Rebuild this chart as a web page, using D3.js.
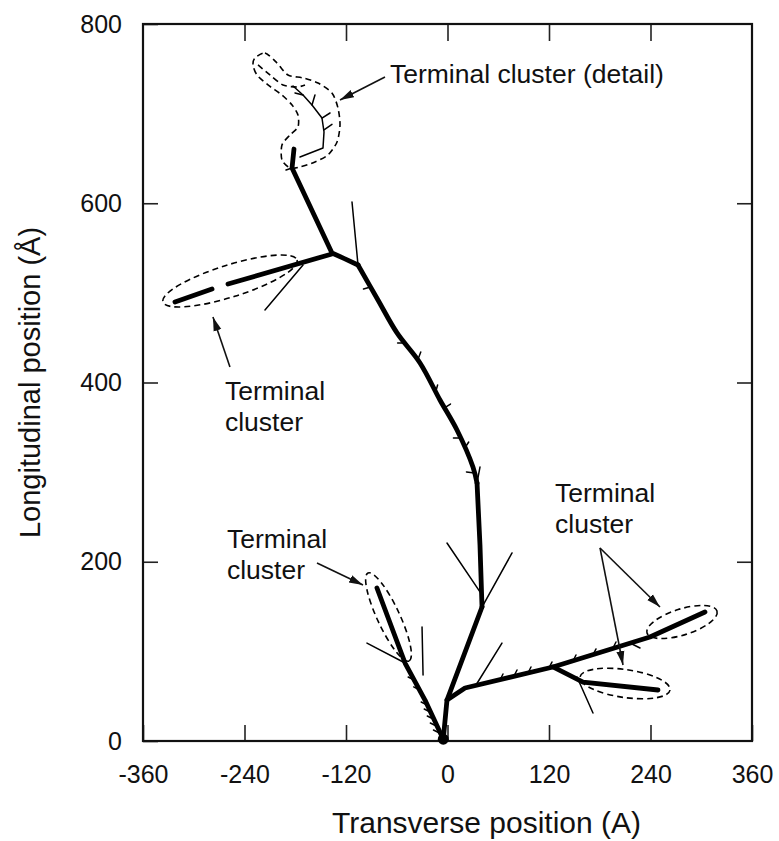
<!DOCTYPE html>
<html><head><meta charset="utf-8">
<script src="https://cdn.jsdelivr.net/npm/d3@7"></script>
<style>body{margin:0;background:#fff} svg{display:block}</style>
</head><body><div id="chart"></div>
<script>
// ---- axes ----
const xTicks = [-360, -240, -120, 0, 120, 240, 360];
const yTicks = [0, 200, 400, 600, 800];
const xTitle = "Transverse position (A)";
const yTitle = "Longitudinal position (Å)";

// ---- tree: thick segments (transverse, longitudinal in Å) ----
const root = [[-5, 2]];
const trunk = [[-5, 2], [-0.6, 45.7], [40.8, 149.5]];
const mainLower = [[40.8, 149.5], [38.4, 218.7], [34.9, 287.9]];
const mainCurve = [[34.9, 287.9], [30.1, 305.7], [11.2, 347.0], [-8.9, 380.5], [-32.5, 421.8], [-59.7, 455.3], [-82.2, 492.1], [-105.8, 531.1]];
const mainUpper = [[-105.8, 531.1], [-121.2, 538], [-136.6, 544.5], [-183.8, 639.3], [-181.5, 660.5]];
const leftClusterNear = [[-136.6, 543.4], [-259.5, 509.9]];
const leftClusterFar = [[-278.4, 504.3], [-322.2, 489.8]];
const lowerLeftBranch = [[-5, 2], [-26.6, 45.7], [-50.2, 87], [-83.4, 170.7]];
const rightBranch = [[-0.6, 45.7], [20.7, 59.1], [124.7, 82.6], [239.4, 116], [304.4, 143.9]];
const rightLowerBranch = [[124.7, 82.6], [160.2, 65.8], [248.9, 56.9]];

// ---- thin side branches ----
const thinBranches = [
  [[-105.8, 531.1], [-112.9, 601.4]],
  [[-170.8, 531.1], [-215.8, 480.9]],
  [[-50.2, 87], [-95.2, 109.3]],
  [[-28.9, 73.6], [-30.1, 127.2]],
  [[40.8, 149.5], [76.3, 209.8]],
  [[-0.6, 220.9], [38.4, 166.3]],
  [[153.1, 71.4], [172, 31.2]],
  [[33.7, 62.5], [64.4, 109.3]]
];
const detailTree = [[-174.4, 651.6], [-147.2, 661.6], [-146, 679.5], [-148.4, 695.1], [-160.2, 709.6], [-170.8, 720.8], [-182.6, 730.9]];
const detailTwigs = [
  [[-160.2, 709.6], [-156.7, 720.8]],
  [[-170.8, 720.8], [-180.3, 723]],
  [[-148.4, 695.1], [-138.9, 700.7]],
  [[-146, 682], [-136.6, 688]]
];
// ---- short barbs ----
const barbs = [
  [[-91, 506.6], [-99.3, 504.4]],
  [[-50.6, 444.1], [-59, 444.1]],
  [[-35.2, 425.1], [-31.6, 434]],
  [[-14, 389.4], [-11.7, 397.2]],
  [[-3.6, 371.6], [3.5, 376]],
  [[15.3, 338.1], [7, 338.1]],
  [[20.4, 326.9], [25.1, 333.6]],
  [[31.9, 299], [22.4, 300.2]],
  [[34.9, 287.9], [38.4, 305.7]],
  [[-183.8, 639.3], [-190.9, 637.1]],
  [[-24, 40.2], [-31.1, 43.5]],
  [[-20.5, 32.4], [-27.5, 35.7]],
  [[-16.8, 24.5], [-23.9, 27.9]],
  [[-13.2, 16.7], [-20.3, 20.1]],
  [[-9.5, 8.9], [-16.6, 12.3]],
  [[-32.9, 56.9], [-40, 60.3]],
  [[-39.4, 68.1], [-46.5, 71.4]],
  [[62.1, 68.1], [65.6, 74.8]],
  [[78.6, 72.5], [82.2, 79.2]],
  [[95.2, 75.9], [98.7, 82.6]],
  [[120, 81.5], [123.5, 88.1]],
  [[148.4, 89.3], [151.9, 96]],
  [[172, 96], [175.6, 102.7]],
  [[195.7, 103.8], [199.2, 110.5]],
  [[215.8, 109.3], [227.6, 103.8]]
];

// ---- dashed cluster outlines: tip A, tip B, half-width (Å) ----
const clusterEllipses = [
  [[-336.4, 489.8], [-177.9, 536.7], 17.9],
  [[-94, 187.5], [-45.5, 89.3], 12.5],
  [[235.9, 120.5], [318.6, 145.1], 14.5],
  [[156.7, 71.4], [263.1, 56.9], 15.6]
];
const detailOutline = [[-227.6, 762.1], [-215.8, 767.7], [-201.6, 756.5], [-188.6, 743.1], [-170.8, 739.8], [-153.1, 734.2], [-136.6, 723], [-129.5, 706.3], [-127.1, 687.3], [-130.6, 668.4], [-141.3, 653.9], [-156.7, 646.1], [-174.4, 640.5], [-186.2, 639.4], [-195.7, 648.3], [-195.7, 665], [-186.2, 676.2], [-176.8, 685.1], [-176.8, 698.5], [-183.8, 709.6], [-195.7, 720.8], [-212.2, 732], [-225.2, 743.1], [-229.9, 754.3]];
const detailInner = [[-224, 754.3], [-209.9, 743.1], [-194.5, 732], [-177.9, 729.7], [-168.5, 732]];

// ---- annotations ----
const arrows = [
  [[-73.9, 740.9], [-127.1, 715.2]],
  [[-257.2, 417.3], [-277.3, 473.1]],
  [[-154.3, 198.6], [-99.9, 174.1]],
  [[180.3, 215.4], [251.2, 149.5]],
  [[180.3, 215.4], [207.5, 84.8]]
];
const labelText = [["Terminal cluster (detail)"], ["Terminal", "cluster"], ["Terminal", "cluster"], ["Terminal", "cluster"]];
const labelAt = [[-68, 734.2], [-263.1, 380.5], [-260.7, 215.4], [127.1, 266.7]];

// ================= drawing =================
const W = 779, H = 841;
const mLeft = 143, mRight = 752, mTop = 24, mBottom = 741;
const font = "'Liberation Sans', Arial, Helvetica, sans-serif";

const svg = d3.select("#chart").append("svg").attr("width", W).attr("height", H)
  .style("font-family", font);

const x = d3.scaleLinear().domain([-360, 360]).range([mLeft, mRight]);
const y = d3.scaleLinear().domain([0, 800]).range([mBottom, mTop]);

const defs = svg.append("defs");
defs.append("marker").attr("id", "ah").attr("markerUnits", "userSpaceOnUse")
  .attr("markerWidth", 16).attr("markerHeight", 10).attr("refX", 14).attr("refY", 5)
  .attr("orient", "auto")
  .append("path").attr("d", "M0,1 L14,5 L0,9 Z").attr("fill", "#111");

const fmt = d => String(d);
// axes
const gx = svg.append("g").attr("transform", `translate(0,${mBottom})`)
  .call(d3.axisBottom(x).tickValues(xTicks).tickFormat(fmt).tickSizeInner(-16).tickSizeOuter(0).tickPadding(24));
const gxt = svg.append("g").attr("transform", `translate(0,${mTop})`)
  .call(d3.axisTop(x).tickValues(xTicks.slice(1, -1)).tickSizeInner(-17).tickSizeOuter(0).tickFormat(""));
const gy = svg.append("g").attr("transform", `translate(${mLeft},0)`)
  .call(d3.axisLeft(y).tickValues(yTicks).tickFormat(fmt).tickSizeInner(-15).tickSizeOuter(0).tickPadding(21));
const gyr = svg.append("g").attr("transform", `translate(${mRight},0)`)
  .call(d3.axisRight(y).tickValues(yTicks.slice(1, -1)).tickSizeInner(-15).tickSizeOuter(0).tickFormat(""));
[gx, gxt, gy, gyr].forEach(g => {
  g.select(".domain").remove();
  g.selectAll(".tick line").attr("stroke", "#222").attr("stroke-width", 1.6);
  g.selectAll("text").attr("font-size", 25).attr("fill", "#111").style("font-family", font);
});

svg.append("rect").attr("x", mLeft).attr("y", mTop).attr("width", mRight - mLeft).attr("height", mBottom - mTop)
  .attr("fill", "none").attr("stroke", "#111").attr("stroke-width", 2.2);

svg.append("text").attr("x", 332).attr("y", 833).attr("font-size", 30).attr("fill", "#111").text(xTitle);
svg.append("text").attr("transform", `translate(40,${(mTop + mBottom) / 2}) rotate(-90)`)
  .attr("text-anchor", "middle").attr("font-size", 29).attr("fill", "#111").text(yTitle);

const line = d3.line().x(d => x(d[0])).y(d => y(d[1]));
const curved = d3.line().x(d => x(d[0])).y(d => y(d[1])).curve(d3.curveCatmullRom.alpha(0.5));
const tree = svg.append("g").attr("fill", "none").attr("stroke", "#000")
  .attr("stroke-linecap", "round").attr("stroke-linejoin", "round");

// dashed outlines
const dash = "6,4";
clusterEllipses.forEach(([a, b, w]) => {
  const ax = x(a[0]), ay = y(a[1]), bx = x(b[0]), by = y(b[1]);
  const cx = (ax + bx) / 2, cy = (ay + by) / 2;
  const rx = Math.hypot(bx - ax, by - ay) / 2;
  const ry = y(0) - y(w);
  const ang = Math.atan2(by - ay, bx - ax) * 180 / Math.PI;
  tree.append("ellipse").attr("cx", 0).attr("cy", 0).attr("rx", rx).attr("ry", ry)
    .attr("transform", `translate(${cx},${cy}) rotate(${ang})`)
    .attr("stroke-width", 1.6).attr("stroke-dasharray", dash).attr("stroke-linecap", "butt");
});
tree.append("path").attr("d", d3.line().x(d => x(d[0])).y(d => y(d[1])).curve(d3.curveCardinalClosed.tension(0.2))(detailOutline))
  .attr("stroke-width", 1.6).attr("stroke-dasharray", dash).attr("stroke-linecap", "butt");
tree.append("path").attr("d", d3.line().x(d => x(d[0])).y(d => y(d[1])).curve(d3.curveCardinal.tension(0.2))(detailInner))
  .attr("stroke-width", 1.6).attr("stroke-dasharray", dash).attr("stroke-linecap", "butt");

// thin lines
[...thinBranches, ...detailTwigs, ...barbs].forEach(seg => {
  tree.append("path").attr("d", line(seg)).attr("stroke-width", 1.5);
});
tree.append("path").attr("d", line(detailTree)).attr("stroke-width", 1.5);

// thick lines
[trunk, mainLower, mainUpper, leftClusterNear, leftClusterFar, lowerLeftBranch, rightBranch, rightLowerBranch].forEach(p => {
  tree.append("path").attr("d", line(p)).attr("stroke-width", 4.8);
});
tree.append("path").attr("d", curved(mainCurve)).attr("stroke-width", 4.8);
svg.selectAll(".root").data(root).enter().append("circle")
  .attr("cx", d => x(d[0])).attr("cy", d => y(d[1])).attr("r", 5.5).attr("fill", "#000");

// arrows
svg.append("g").selectAll("path").data(arrows).enter().append("path")
  .attr("d", d => line(d)).attr("stroke", "#111").attr("stroke-width", 1.6).attr("fill", "none")
  .attr("marker-end", "url(#ah)");

// labels
labelText.forEach((lines, i) => {
  const t = svg.append("text").attr("x", x(labelAt[i][0])).attr("y", y(labelAt[i][1]))
    .attr("font-size", 26.5).attr("fill", "#111");
  lines.forEach((s, j) => t.append("tspan").attr("x", x(labelAt[i][0])).attr("dy", j ? 31 : 0).text(s));
});
</script></body></html>
